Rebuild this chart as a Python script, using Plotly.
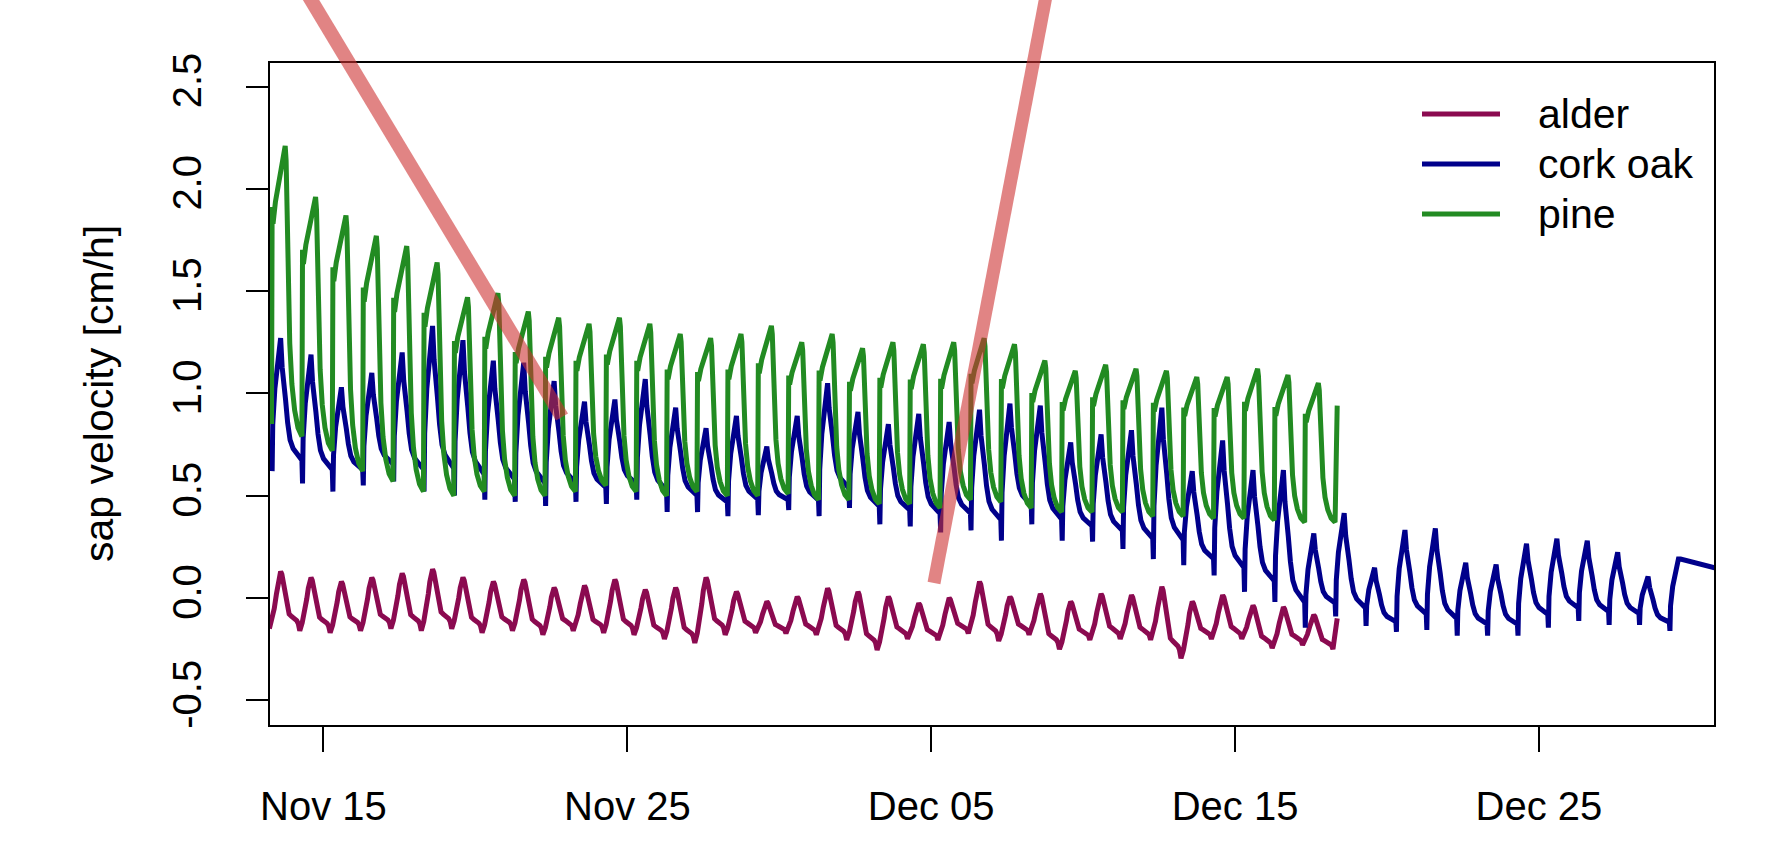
import pandas as pd
import plotly.graph_objects as go

# ---------------- data ----------------
START = "2015-11-13"          # first calendar day shown
SERIES = ["alder", "cork oak", "pine"]
COLORS = ["#8B0A50", "#00008B", "#228B22"]

# pine: daily night minimum (Nov 13 .. Dec 18) and daily maximum (Nov 13 .. Dec 17)
pine_trough = [0.85, 0.79, 0.72, 0.62, 0.57, 0.52, 0.50, 0.52, 0.50, 0.50, 0.52, 0.55,
               0.52, 0.50, 0.52, 0.50, 0.50, 0.51,
               0.48, 0.48, 0.46, 0.46, 0.44, 0.48, 0.47, 0.44, 0.42, 0.42, 0.42, 0.40,
               0.40, 0.39, 0.39, 0.38, 0.37, 0.37]
pine_peak = [2.21, 1.96, 1.87, 1.77, 1.72, 1.64, 1.47, 1.49, 1.40, 1.37, 1.34, 1.37,
             1.34, 1.29, 1.27, 1.29, 1.33, 1.25,
             1.29, 1.22, 1.25, 1.24, 1.25, 1.27, 1.24, 1.16, 1.11, 1.14, 1.12, 1.11,
             1.08, 1.08, 1.12, 1.09, 1.05]
pine_end = 0.94

# cork oak: pre-dawn dip and daily maximum (Nov 13 .. Dec 29)
cork_dip = [0.62, 0.56, 0.52, 0.55, 0.57, 0.52, 0.50, 0.48, 0.47, 0.45, 0.47, 0.46,
            0.48, 0.42, 0.42, 0.40, 0.405, 0.43,
            0.40, 0.44, 0.36, 0.35, 0.32, 0.33, 0.28, 0.36, 0.28, 0.275, 0.24, 0.19,
            0.16, 0.11, 0.03, -0.02, -0.145, -0.09, -0.137, -0.166, -0.156, -0.184,
            -0.184, -0.184, -0.145, -0.112, -0.132, -0.132, -0.161]
cork_peak = [1.27, 1.19, 1.03, 1.10, 1.20, 1.33, 1.26, 1.16, 1.15, 1.06, 0.96, 0.97,
             1.07, 0.93, 0.83, 0.89, 0.74, 0.89,
             1.05, 0.91, 0.85, 0.90, 0.86, 0.92, 0.95, 0.94, 0.76, 0.80, 0.82, 0.93,
             0.62, 0.77, 0.625, 0.625, 0.315, 0.415, 0.148, 0.332, 0.34, 0.172,
             0.164, 0.265, 0.29, 0.28, 0.223, 0.105, 0.19]
cork_tail = [0.19, 0.13]

# alder: daily minimum (Nov 13 .. Dec 18) and daily maximum (Nov 13 .. Dec 17)
alder_trough = [-0.15, -0.16, -0.17, -0.16, -0.15, -0.16, -0.15, -0.17, -0.16, -0.18,
                -0.16, -0.17, -0.18, -0.20, -0.22, -0.18, -0.17, -0.173,
                -0.18, -0.205, -0.254, -0.20, -0.205, -0.173, -0.21, -0.18, -0.25,
                -0.205, -0.20, -0.205, -0.295, -0.20, -0.20, -0.245, -0.23, -0.25]
alder_peak = [0.13, 0.10, 0.08, 0.10, 0.12, 0.14, 0.10, 0.08, 0.09, 0.05, 0.06, 0.09,
              0.04, 0.05, 0.10, 0.03, -0.018, 0.006,
              0.047, 0.03, 0.006, -0.026, 0.0, 0.08, 0.006, 0.02, -0.018, 0.02,
              0.014, 0.055, -0.018, 0.014, -0.037, -0.045, -0.083]
alder_end = -0.10

# typical daily course of each series (time of day, share of the day's swing)
PINE_RISE = [(0.29, 0.0), (0.31, 0.78), (0.34, 0.72), (0.42, 0.80), (0.52, 0.86),
             (0.62, 0.92), (0.70, 0.98), (0.74, 1.0)]
PINE_FALL = [(0.77, 0.95), (0.80, 0.75), (0.84, 0.50), (0.89, 0.32), (0.96, 0.18),
             (1.05, 0.09), (1.16, 0.03)]
CORK_RISE = [(0.31, 0.0), (0.33, 0.35), (0.40, 0.62), (0.46, 0.72), (0.53, 0.90),
             (0.59, 1.0)]
CORK_FALL = [(0.64, 0.80), (0.70, 0.62), (0.75, 0.58), (0.82, 0.42), (0.90, 0.30),
             (1.00, 0.24), (1.10, 0.21), (1.20, 0.19), (1.29, 0.16)]
ALDER_RISE = [(0.22, 0.0), (0.30, 0.15), (0.38, 0.35), (0.45, 0.60), (0.50, 0.80),
              (0.55, 0.95), (0.59, 1.0)]
ALDER_FALL = [(0.63, 0.95), (0.68, 0.80), (0.74, 0.55), (0.80, 0.38), (0.87, 0.28),
              (0.95, 0.24), (1.05, 0.20), (1.12, 0.17), (1.17, 0.12)]

X_RANGE = ["2015-11-13 05:45", "2015-12-30 18:14"]
Y_RANGE = [-0.621, 2.615]
X_TICKS = ["2015-11-15", "2015-11-25", "2015-12-05", "2015-12-15", "2015-12-25"]
X_TICKTEXT = ["Nov 15", "Nov 25", "Dec 05", "Dec 15", "Dec 25"]
Y_TICKS = [-0.5, 0.0, 0.5, 1.0, 1.5, 2.0, 2.5]
Y_TITLE = "sap velocity [cm/h]"
TOP_TEXT = "Sap velocity"

# ---------------- build daily courses ----------------
base = pd.Timestamp(START)


def ts(day):
    return (base + pd.to_timedelta(day, unit="D")).strftime("%Y-%m-%d %H:%M")


def build(lows, highs, rise, fall):
    t, v = [], []
    for i, hi in enumerate(highs):
        lo0 = lows[i]
        for ph, f in rise:
            t.append(ts(i + ph)); v.append(lo0 + (hi - lo0) * f)
        if i + 1 < len(lows):
            lo1 = lows[i + 1]
            for ph, f in fall:
                t.append(ts(i + ph)); v.append(lo1 + (hi - lo1) * f)
    return t, v


pt, pv = build(pine_trough, pine_peak, PINE_RISE, PINE_FALL)
n = len(pine_peak)
pt += [ts(n + 0.29), ts(n + 0.36)]
pv += [pine_trough[n], pine_end]

ct, cv = build(cork_dip, cork_peak, CORK_RISE, CORK_FALL)
m = len(cork_peak)
ct += [ts(m - 1 + 0.66), ts(m + 1.25)]
cv += cork_tail

at, av = build(alder_trough, alder_peak, ALDER_RISE, ALDER_FALL)
k = len(alder_peak)
at += [ts(k + 0.22), ts(k + 0.36)]
av += [alder_trough[k], alder_end]

FONT = "Liberation Sans, Arial, sans-serif"
LW = 5
fig = go.Figure()
for (tt, vv), name, col in zip([(at, av), (ct, cv), (pt, pv)], SERIES, COLORS):
    fig.add_trace(go.Scatter(x=tt, y=vv, mode="lines", name=name,
                             line=dict(color=col, width=LW), showlegend=False))

# ---------------- layout ----------------
W, H = 1787, 855
L, R, T, B = 270, 73, 63, 130
pw, ph = W - L - R, H - T - B


def px(x):   # page pixel -> paper x
    return (x - L) / pw


def py(y):   # page pixel -> paper y
    return (H - B - y) / ph


# big heading above the chart, of which only the descenders reach into the page
# (placed through a text trace so that its baseline is font-size based)
y_per_px = (Y_RANGE[1] - Y_RANGE[0]) / ph
head_baseline = -11                         # page pixel of the heading baseline
head_size = 102
head_y = Y_RANGE[1] + (T - (head_baseline - 0.25 * head_size)) * y_per_px
x0, x1 = pd.Timestamp(X_RANGE[0]), pd.Timestamp(X_RANGE[1])
head_x = (x0 + (x1 - x0) * ((1715 - L) / pw)).strftime("%Y-%m-%d %H:%M")
fig.add_trace(go.Scatter(x=[head_x], y=[head_y], mode="text", text=[TOP_TEXT],
                         textposition="middle left", cliponaxis=False,
                         textfont=dict(size=head_size, family=FONT, color="black",
                                       weight="bold"),
                         hoverinfo="skip", showlegend=False))

fig.update_layout(
    width=W, height=H,
    margin=dict(l=L, r=R, t=T, b=B),
    paper_bgcolor="white", plot_bgcolor="white",
    font=dict(family=FONT, color="black", size=40),
    xaxis=dict(range=X_RANGE, tickvals=X_TICKS, ticktext=X_TICKTEXT,
               showgrid=False, zeroline=False, showline=True, linecolor="black",
               linewidth=2, mirror=True, ticks="outside", ticklen=25, tickwidth=2,
               tickcolor="black", tickfont=dict(size=40), ticklabelstandoff=20),
    yaxis=dict(range=Y_RANGE, tickvals=Y_TICKS,
               ticktext=[f"{v:.1f}" for v in Y_TICKS],
               showgrid=False, zeroline=False, showline=True, linecolor="black",
               linewidth=2, mirror=True, ticks="outside", ticklen=22, tickwidth=2,
               tickcolor="black", tickangle=-90, tickfont=dict(size=40),
               ticklabelstandoff=29),
)

annotations = [
    dict(text=Y_TITLE, x=px(99), y=py(394), xref="paper", yref="paper",
         textangle=-90, showarrow=False, font=dict(size=41),
         xanchor="center", yanchor="middle"),
]
shapes = []
for i, (name, col) in enumerate(zip(SERIES, COLORS)):
    yy = 114 + 50 * i
    shapes.append(dict(type="line", xref="paper", yref="paper",
                       x0=px(1422), x1=px(1500), y0=py(yy), y1=py(yy),
                       line=dict(color=col, width=LW)))
    annotations.append(dict(text=name, x=px(1536), y=py(yy), xref="paper",
                            yref="paper", showarrow=False, xanchor="left",
                            yanchor="middle", font=dict(size=41)))

RED = "rgba(205, 50, 50, 0.6)"
shapes.append(dict(type="line", xref="paper", yref="paper",
                   x0=px(293), y0=py(-30), x1=px(562), y1=py(417),
                   line=dict(color=RED, width=14), layer="above"))
shapes.append(dict(type="line", xref="paper", yref="paper",
                   x0=px(1051), y0=py(-30), x1=px(934), y1=py(583),
                   line=dict(color=RED, width=13), layer="above"))

fig.update_layout(annotations=annotations, shapes=shapes)
# place the figure flush with the page corner (no default body margin)
fig.write_html("out.html",
               config={"displayModeBar": False},
               post_script="document.body.style.margin='0px';")
